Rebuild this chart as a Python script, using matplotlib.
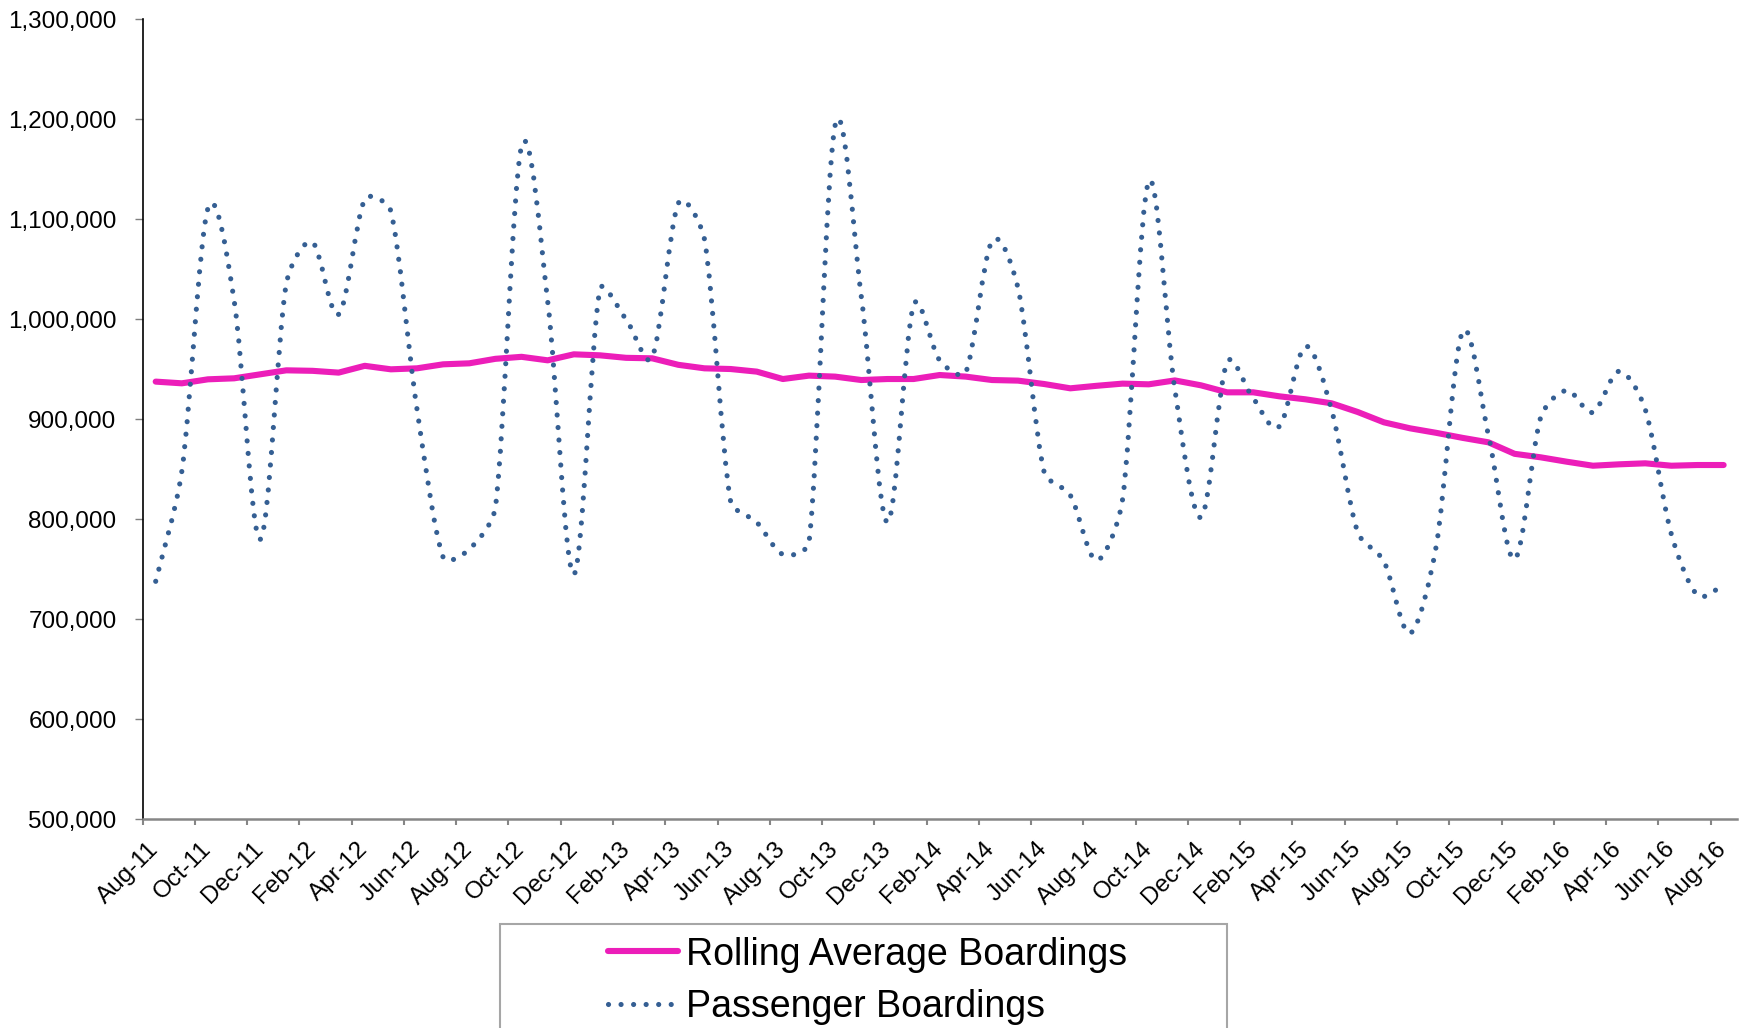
import numpy as np
import matplotlib
matplotlib.use("Agg")
import matplotlib.pyplot as plt
from matplotlib.path import Path
from matplotlib.patches import PathPatch, Rectangle
from matplotlib.lines import Line2D
from matplotlib.ticker import FuncFormatter, FixedLocator, MultipleLocator, NullFormatter

plt.rcParams["font.family"] = ["Liberation Sans", "DejaVu Sans"]

# one label every second month, Aug-11 .. Aug-16 (61 monthly points)
TICK_LABELS = ["Aug-11", "Oct-11", "Dec-11", "Feb-12", "Apr-12", "Jun-12", "Aug-12", "Oct-12",
               "Dec-12", "Feb-13", "Apr-13", "Jun-13", "Aug-13", "Oct-13", "Dec-13", "Feb-14",
               "Apr-14", "Jun-14", "Aug-14", "Oct-14", "Dec-14", "Feb-15", "Apr-15", "Jun-15",
               "Aug-15", "Oct-15", "Dec-15", "Feb-16", "Apr-16", "Jun-16", "Aug-16"]

# monthly passenger boardings
BOARDINGS = [738000, 848000, 1111000, 1019000, 780000, 1036000, 1077000, 1005000, 1120000, 1108000,
             910000, 762000, 770000, 812000, 1173000, 1018000, 745000, 1030000, 1000000, 962000,
             1116000, 1080000, 818000, 797000, 765000, 777000, 1194000, 1023000, 797000, 1014000,
             959000, 947000, 1078000, 1031000, 847000, 824000, 759000, 820000, 1138000, 930000,
             802000, 957000, 921000, 893000, 973000, 909000, 787000, 758000, 686000, 773000,
             987000, 884000, 760000, 902000, 929000, 907000, 948000, 910000, 785000, 724000,
             735000]

# 12-month rolling average
ROLLING = [937700, 936000, 940000, 941000, 945000, 949000, 948500, 946700, 953500, 950000,
           951000, 955000, 956000, 960500, 962500, 959000, 965000, 964000, 961500, 961000,
           954500, 951000, 950300, 947700, 940300, 943700, 942700, 939300, 940300, 940300,
           944300, 942700, 939300, 938700, 935300, 931000, 933500, 935700, 935000, 938900,
           934000, 927000, 927000, 923000, 920000, 916000, 907300, 897000, 891000, 886500,
           881500, 877000, 865500, 862000, 857600, 853600, 855000, 856000, 853600, 854300,
           854300]

PINK = "#EC1EB9"
BLUE = "#355F93"
DOTS = (0, (0.01, 2.43))


def smooth_path(ax, xs, ys, k=1 / 3.0):
    # smoothed line like Excel's: catmull-rom bezier through every point, worked out in pixels,
    # with each control arm kept to at most k * segment length so short segments don't overshoot
    pts = ax.transData.transform(np.column_stack([xs, ys]).astype(float))
    n = len(pts)
    tang = [(pts[min(i + 1, n - 1)] - pts[max(i - 1, 0)]) / 6.0 for i in range(n)]

    def arm(t, seg):
        ln = np.hypot(*t)
        return t if ln <= seg * k else t * (seg * k / ln)

    verts, codes = [pts[0]], [Path.MOVETO]
    for i in range(n - 1):
        seg = np.hypot(*(pts[i + 1] - pts[i]))
        verts += [pts[i] + arm(tang[i], seg), pts[i + 1] - arm(tang[i + 1], seg), pts[i + 1]]
        codes += [Path.CURVE4] * 3
    return Path(ax.transData.inverted().transform(np.array(verts)), codes)


x = np.arange(len(BOARDINGS))

fig = plt.figure(figsize=(17.5, 10.28), dpi=100)
ax = fig.add_axes([0.0815, 0.203, 0.9109, 0.7782])
ax.set_xlim(-0.5, len(BOARDINGS) - 0.5)
ax.set_ylim(500000, 1300000)

ax.plot(x, ROLLING, color=PINK, lw=4.4, solid_joinstyle="round", solid_capstyle="round", zorder=3)
patch = PathPatch(smooth_path(ax, x, BOARDINGS), fill=False, edgecolor=BLUE, lw=3.7,
                  linestyle=DOTS, capstyle="round", zorder=4)
ax.add_patch(patch)

# y axis
ax.yaxis.set_major_locator(MultipleLocator(100000))
ax.yaxis.set_major_formatter(FuncFormatter(lambda v, p: f"{v:,.0f}"))
ax.tick_params(axis="y", direction="out", length=5.8, width=1, color="#7F7F7F",
               labelsize=17.5, pad=13)

# x axis: tick marks on category boundaries, labels on the categories
ax.xaxis.set_major_locator(FixedLocator(np.arange(-0.5, len(BOARDINGS) - 1, 2)))
ax.xaxis.set_major_formatter(NullFormatter())
ax.xaxis.set_minor_locator(FixedLocator(np.arange(0, len(BOARDINGS), 2)))
ax.set_xticklabels(TICK_LABELS, minor=True)
ax.tick_params(axis="x", which="major", direction="out", length=4, width=1.5, color="#868686")
ax.tick_params(axis="x", which="minor", length=0, labelsize=17.5, pad=19)
for t in ax.get_xticklabels(minor=True):
    t.set_rotation(45); t.set_ha("right"); t.set_va("center"); t.set_rotation_mode("anchor")

for s in ("top", "right"):
    ax.spines[s].set_visible(False)
ax.spines["left"].set_color("black"); ax.spines["left"].set_linewidth(1.2)
ax.spines["bottom"].set_color("#868686"); ax.spines["bottom"].set_linewidth(1.8)

# legend box, cut off by the bottom of the image
fig.patches.append(Rectangle((0.2857, -0.1), 0.4152, 0.2012, transform=fig.transFigure,
                             fill=False, edgecolor="#A6A6A6", lw=1.5))
handles = [Line2D([], [], color=PINK, lw=4.4, solid_capstyle="round"),
           Line2D([], [], color=BLUE, lw=3.7, linestyle=DOTS, dash_capstyle="round")]
fig.legend(handles, ["Rolling Average Boardings", "Passenger Boardings"],
           loc="upper left", bbox_to_anchor=(0.3474, 0.089), frameon=False, fontsize=27,
           handlelength=1.88, handletextpad=0.2, borderpad=0, borderaxespad=0, labelspacing=0.44)

fig.savefig("out.png", dpi=100)
